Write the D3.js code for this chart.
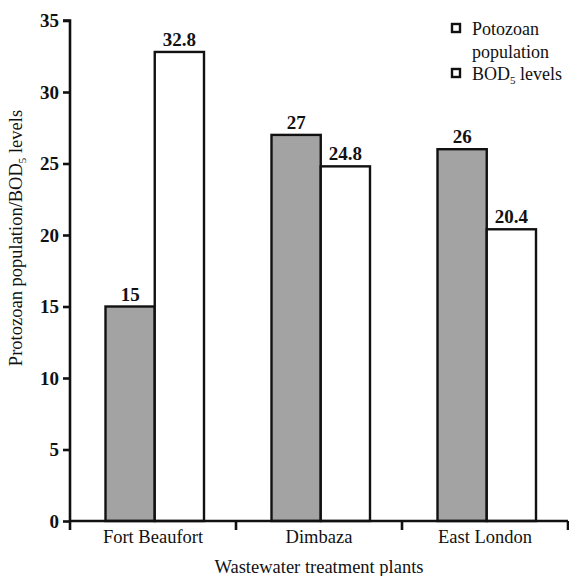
<!DOCTYPE html>
<html>
<head>
<meta charset="utf-8">
<script src="https://cdn.jsdelivr.net/npm/d3@7"></script>
<style>
  html, body { margin: 0; padding: 0; background: #fff; }
  svg { display: block; }
</style>
</head>
<body>
<svg id="chart" width="569" height="576"></svg>
<script>
const categories = ["Fort Beaufort", "Dimbaza", "East London"];
const seriesNames = ["Potozoan population", "BOD5 levels"];
const protozoanValues = [15, 27, 26];
const bodValues = [32.8, 24.8, 20.4];
const yTicks = [0, 5, 10, 15, 20, 25, 30, 35];

const FONT = '"Liberation Serif"';
const svg = d3.select("#chart");

const x = d3.scaleBand().domain(categories).range([70, 568]).paddingInner(0).paddingOuter(0);
const y = d3.scaleLinear().domain([0, 35]).range([521, 20.5]);
const sub = d3.scaleBand().domain(seriesNames).range([35.5, 134]);

const data = categories.map((c, i) => ({ cat: c, vals: [
  { s: seriesNames[0], v: protozoanValues[i] },
  { s: seriesNames[1], v: bodValues[i] }
]}));

const fills = { [seriesNames[0]]: "#a3a3a3", [seriesNames[1]]: "#ffffff" };

const groups = svg.selectAll("g.cat").data(data).join("g")
  .attr("class", "cat")
  .attr("transform", d => `translate(${x(d.cat)},0)`);

groups.selectAll("rect").data(d => d.vals).join("rect")
  .attr("x", d => sub(d.s))
  .attr("y", d => y(d.v))
  .attr("width", sub.bandwidth())
  .attr("height", d => y(0) - y(d.v))
  .attr("fill", d => fills[d.s])
  .attr("stroke", "#111")
  .attr("stroke-width", 2.4);

groups.selectAll("text.val").data(d => d.vals).join("text")
  .attr("class", "val")
  .attr("x", d => sub(d.s) + sub.bandwidth() / 2)
  .attr("y", d => y(d.v) - 6)
  .attr("text-anchor", "middle")
  .attr("fill", "#111")
  .style("font-family", FONT)
  .style("font-weight", "bold")
  .style("font-size", "19px")
  .text(d => d.v);

// Y axis
const yAxis = svg.append("g").attr("transform", "translate(70,0)")
  .call(d3.axisLeft(y).tickValues(yTicks).tickSize(7).tickPadding(4).tickFormat(d3.format("d")));
yAxis.attr("font-family", null);
yAxis.select(".domain").attr("stroke", "#111").attr("stroke-width", 2.6).attr("d", `M-7,${y(35)}H0V${y(0)}`);
yAxis.selectAll(".tick line").attr("stroke", "#111").attr("stroke-width", 2.6);
yAxis.selectAll(".tick text").attr("fill", "#111")
  .style("font-family", FONT).style("font-weight", "bold").style("font-size", "19px");

// X axis
const xAxis = svg.append("g").attr("transform", `translate(0,${y(0)})`)
  .call(d3.axisBottom(x).tickSize(0).tickPadding(9));
xAxis.attr("font-family", null);
xAxis.select(".domain").attr("stroke", "#111").attr("stroke-width", 2.6).attr("d", "M70,0H568");
xAxis.selectAll(".tick text").attr("fill", "#111")
  .attr("dy", "0.71em")
  .style("font-family", FONT).style("font-size", "18.5px");
const boundaries = categories.map(c => x(c)).concat([x.range()[1]]);
xAxis.selectAll("line.bt").data(boundaries).join("line")
  .attr("class", "bt")
  .attr("x1", d => d).attr("x2", d => d)
  .attr("y1", 0).attr("y2", 9)
  .attr("stroke", "#111").attr("stroke-width", 2.6);

// Axis titles
svg.append("text")
  .attr("x", 319).attr("y", 573)
  .attr("text-anchor", "middle").attr("fill", "#111")
  .style("font-family", FONT).style("font-size", "18.5px")
  .text("Wastewater treatment plants");

const yt = svg.append("text")
  .attr("transform", "translate(22,238) rotate(-90)")
  .attr("text-anchor", "middle").attr("fill", "#111")
  .style("font-family", FONT).style("font-size", "18.5px");
yt.append("tspan").text("Protozoan population/BOD");
yt.append("tspan").style("font-size", "11px").attr("dy", 4).text("5");
yt.append("tspan").attr("dy", -4).text(" levels");

// Legend
const legend = svg.append("g").attr("transform", "translate(451,0)");
const legendRows = [23, 68];
legend.selectAll("rect").data(legendRows).join("rect")
  .attr("x", 1).attr("y", d => d + 1).attr("width", 8).attr("height", 8)
  .attr("fill", "#fff").attr("stroke", "#111").attr("stroke-width", 2.4);
legend.append("text").attr("x", 21).attr("y", 35).attr("fill", "#111")
  .style("font-family", FONT).style("font-size", "18px").text("Potozoan");
legend.append("text").attr("x", 21).attr("y", 58).attr("fill", "#111")
  .style("font-family", FONT).style("font-size", "18px").text("population");
const lt = legend.append("text").attr("x", 21).attr("y", 80).attr("fill", "#111")
  .style("font-family", FONT).style("font-size", "18px");
lt.append("tspan").text("BOD");
lt.append("tspan").style("font-size", "11px").attr("dy", 4).text("5");
lt.append("tspan").attr("dy", -4).text(" levels");
</script>
</body>
</html>
